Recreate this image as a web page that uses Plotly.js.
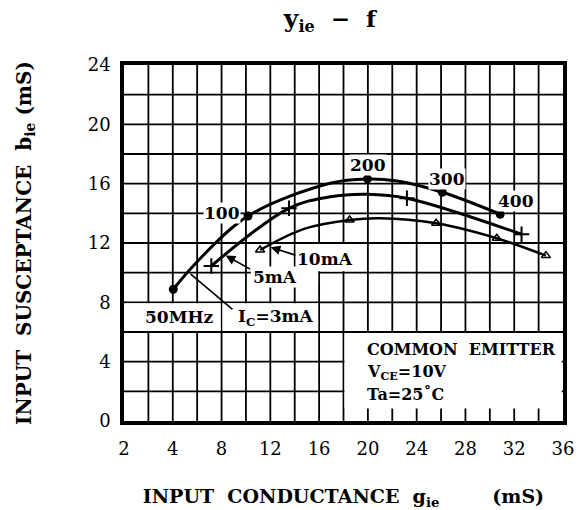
<!DOCTYPE html>
<html>
<head>
<meta charset="utf-8">
<script src="https://cdn.plot.ly/plotly-3.0.1.min.js"></script>
<style>html,body{margin:0;padding:0;background:#fff;}#chart{width:581px;height:510px;}</style>
</head>
<body>
<div id="chart"></div>
<script>
// ---- data ----
// tick positions and their printed labels (the first x label is printed "2")
const xTickVals = [0, 4, 8, 12, 16, 20, 24, 28, 32, 36];
const xTickText = ["2", "4", "8", "12", "16", "20", "24", "28", "32", "36"];
const yTickVals = [0, 4, 8, 12, 16, 20, 24];
const yTickText = ["0", "4", "8", "12", "16", "20", "24"];

// IC = 3 mA curve (gie, bie)
const ic3Line_g = [4.04, 6.0, 10.17, 16.9, 19.96, 22.4, 26.1, 30.85];
const ic3Line_b = [8.88, 10.74, 13.82, 16.03, 16.32, 16.18, 15.42, 13.94];
const ic3Pts_g = [4.04, 10.17, 19.96, 26.1, 30.85];
const ic3Pts_b = [8.88, 13.82, 16.32, 15.42, 13.94];

// IC = 5 mA curve
const ic5Line_g = [7.16, 13.53, 16.9, 19.96, 23.2, 32.6];
const ic5Line_b = [10.45, 14.34, 15.12, 15.29, 15.02, 12.59];
const ic5Pts_g = [7.16, 13.53, 23.2, 32.6];
const ic5Pts_b = [10.45, 14.34, 15.02, 12.59];

// IC = 10 mA curve
const ic10Line_g = [11.16, 14.77, 18.5, 21.0, 25.6, 30.57, 34.6];
const ic10Line_b = [11.53, 12.95, 13.55, 13.67, 13.33, 12.32, 11.15];
const ic10Pts_g = [11.16, 18.5, 25.6, 30.57, 34.6];
const ic10Pts_b = [11.53, 13.55, 13.33, 12.32, 11.15];

const freqLabels = ["50MHz", "100", "200", "300", "400"];
const currentLabels = ["I<sub>C</sub>=3mA", "5mA", "10mA"];
const noteLines = ["COMMON&nbsp;&nbsp;EMITTER", "V<sub>CE</sub>=10V", "Ta=25&#730;C"];

// ---- chart ----
const X_MAX = 36, Y_MAX = 24, GRID_STEP = 2;
const FONT = "DejaVu Serif, Liberation Serif, serif";

// chart-paper grid, drawn through the axes as a gapped line
const gridX = [], gridY = [];
for (let g = GRID_STEP; g < X_MAX; g += GRID_STEP) { gridX.push(g, g, null); gridY.push(0, Y_MAX, null); }
for (let g = GRID_STEP; g < Y_MAX; g += GRID_STEP) { gridX.push(0, X_MAX, null); gridY.push(g, g, null); }
const gridTrace = {x: gridX, y: gridY, type: "scatter", mode: "lines", connectgaps: false,
  line: {color: "#000", width: 1.8}, hoverinfo: "skip", showlegend: false};

// white panels that hide the grid behind the labels
const panel = (x0, x1, y0, y1) => ({x: [x0, x1, x1, x0, x0], y: [y0, y0, y1, y1, y0], type: "scatter",
  mode: "lines", fill: "toself", fillcolor: "#fff", line: {width: 0, color: "#fff"}, hoverinfo: "skip", showlegend: false});
const panels = [
  panel(0.1, 7.92, 6.07, 7.93),
  panel(8.08, 15.92, 6.07, 7.93),
  panel(10.4, 15.92, 9.35, 10.25),
  panel(14.08, 18.25, 10.1, 11.93),
  panel(18.08, 35.9, 0.85, 5.93)
];

const lineTrace = (x, y, w) => ({x, y, type: "scatter", mode: "lines",
  line: {color: "#000", width: w, shape: "spline", smoothing: 1}, showlegend: false});

const traces = [gridTrace].concat(panels, [
  lineTrace(ic3Line_g, ic3Line_b, 3),
  lineTrace(ic5Line_g, ic5Line_b, 3),
  lineTrace(ic10Line_g, ic10Line_b, 2.5),
  {x: ic3Pts_g, y: ic3Pts_b, type: "scatter", mode: "markers", showlegend: false,
   marker: {symbol: "circle", size: 9, color: "#000"}},
  {x: ic5Pts_g, y: ic5Pts_b, type: "scatter", mode: "markers", showlegend: false,
   marker: {symbol: "cross-thin-open", size: 11, color: "#000", line: {color: "#000", width: 2}}},
  {x: ic10Pts_g, y: ic10Pts_b, type: "scatter", mode: "markers", showlegend: false,
   marker: {symbol: "triangle-up-open", size: 8, color: "#000", line: {color: "#000", width: 1.5}}}
]);

const lblFont = {family: FONT, size: 17, color: "#000"};
const lbl = (text, x, y) => ({text: "<b>" + text + "</b>", x, y, xref: "x", yref: "y", showarrow: false,
  font: lblFont, bgcolor: "#fff", borderpad: 0});
const arrow = (x, y, ax, ay, head) => ({text: "", x, y, ax, ay, xref: "x", yref: "y", axref: "x", ayref: "y",
  showarrow: true, arrowhead: head, arrowsize: 1.2, arrowwidth: 1.6, arrowcolor: "#000", standoff: 0, startstandoff: 0});
const noteFont = {family: FONT, size: 16, color: "#000"};
const note = (text, y) => ({text: "<b>" + text + "</b>", x: 19.8, y, xref: "x", yref: "y", xanchor: "left",
  showarrow: false, font: noteFont});

const annotations = [
  lbl(freqLabels[0], 4.51, 7.03),
  lbl(freqLabels[1], 8.04, 14.03),
  lbl(freqLabels[2], 20.04, 17.26),
  lbl(freqLabels[3], 26.47, 16.32),
  lbl(freqLabels[4], 32.14, 14.81),
  lbl(currentLabels[0], 12.39, 6.95),
  lbl(currentLabels[1], 12.37, 9.73),
  lbl(currentLabels[2], 16.47, 10.92),
  arrow(5.47, 9.9, 9.02, 7.44, 0),
  arrow(8.34, 11.15, 10.47, 10.18, 2),
  arrow(12.03, 11.71, 14.17, 11.15, 2),
  note(noteLines[0], 4.79),
  note(noteLines[1], 3.30),
  note(noteLines[2], 1.82)
];

const axisCommon = {
  ticks: "outside", tickcolor: "rgba(0,0,0,0)", tickfont: {family: FONT, size: 18, color: "#000"},
  showgrid: false, zeroline: false,
  showline: true, mirror: true, linecolor: "#000", linewidth: 3.5
};

const layout = {
  width: 581, height: 510,
  margin: {l: 124, r: 18, t: 65, b: 89},
  font: {family: FONT, color: "#000"},
  title: {text: "<b><span style='font-size:25px'>y</span><sub>ie</sub>&nbsp;&nbsp;−&nbsp;&nbsp;f</b>",
          font: {family: FONT, size: 23, color: "#000"},
          x: 0.469, xref: "paper", xanchor: "center", y: 0.962, yanchor: "middle"},
  xaxis: Object.assign({}, axisCommon, {
    range: [0, X_MAX], tickmode: "array", tickvals: xTickVals, ticktext: xTickText, ticklen: 9,
    title: {text: "<b>INPUT&nbsp;&nbsp;CONDUCTANCE&nbsp;&nbsp;g<sub>ie</sub>&nbsp;&nbsp;&nbsp;&nbsp;&nbsp;&nbsp;&nbsp;&nbsp;(mS)</b>",
            font: {family: FONT, size: 19, color: "#000"}, standoff: 32}
  }),
  yaxis: Object.assign({}, axisCommon, {
    range: [0, Y_MAX], tickmode: "array", tickvals: yTickVals, ticktext: yTickText, ticklen: 6,
    title: {text: "<b>INPUT&nbsp;&nbsp;SUSCEPTANCE&nbsp;&nbsp;b<sub>ie</sub>&nbsp;(mS)</b>",
            font: {family: FONT, size: 20, color: "#000"}, standoff: 52}
  }),
  showlegend: false,
  hovermode: false,
  annotations
};

Plotly.newPlot("chart", traces, layout, {displayModeBar: false});
</script>
</body>
</html>
